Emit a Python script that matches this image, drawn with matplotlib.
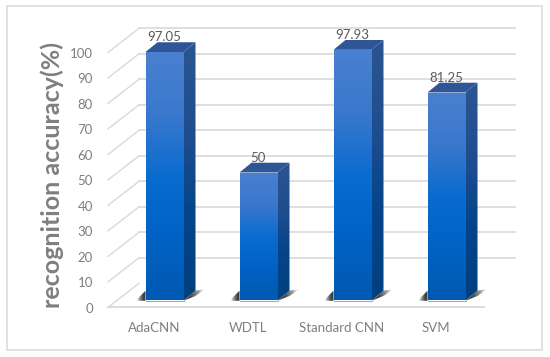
import numpy as np
import matplotlib
matplotlib.use("Agg")
import matplotlib.pyplot as plt
from matplotlib.colors import LinearSegmentedColormap
from matplotlib.patches import Polygon, Rectangle

categories = ["AdaCNN", "WDTL", "Standard CNN", "SVM"]
accuracy = [97.05, 50, 97.93, 81.25]
value_labels = ["97.05", "50", "97.93", "81.25"]
y_ticks = [0, 10, 20, 30, 40, 50, 60, 70, 80, 90, 100]

W, H = 550, 357
PX_X = 94.0   # pixels per category
PX_Y = 2.56   # pixels per percent
X0 = 164.5    # pixel of first bar centre
Y0 = 300.5    # pixel of value 0 on the bar front plane

BAR_W = 38 / PX_X
# depth of the bars, in data units
DX = 12 / PX_X
DY = 9.8 / PX_Y
# back wall and floor front, relative to the bar front plane
BACK_DX = 21.5 / PX_X
BACK_DY = 17.2 / PX_Y
FRONT_DX = -9.5 / PX_X
FRONT_DY = -6.9 / PX_Y
GRID_SCALE = 0.996

plt.rcParams["font.family"] = ["Lato", "DejaVu Sans"]

fig = plt.figure(figsize=(W / 100, H / 100), dpi=100, facecolor="white")
ax = fig.add_axes([0, 0, 1, 1])
ax.axis("off")

grid_col = "#d9d9d9"
text_col = "#7f7f7f"

# outer frame
ax.add_patch(Rectangle((7 / W, 1 - 349.5 / H), (542 - 7) / W, (349.5 - 5.5) / H,
                       transform=ax.transAxes, fill=False, ec="#dedede", lw=1.3))

left = -0.5
right = 3.5
for v in y_ticks:
    yv = v * GRID_SCALE
    # back wall and side wall lines
    if v > 0:
        ax.plot([left + BACK_DX, right + BACK_DX], [yv + BACK_DY] * 2, color=grid_col, lw=1.2, zorder=1)
    ax.plot([left + FRONT_DX, left + BACK_DX], [yv + FRONT_DY, yv + BACK_DY], color=grid_col, lw=1.0, zorder=1)
    ax.text(left + FRONT_DX - 15 / PX_X, yv + FRONT_DY - 0.5, str(v), ha="right",
            va="center", fontsize=9.5, color=text_col)

# floor front line
ax.plot([left + FRONT_DX, right + FRONT_DX], [FRONT_DY, FRONT_DY], color=grid_col, lw=1.3, zorder=1)

front_cmap = LinearSegmentedColormap.from_list("front", ["#4a80d0", "#3a78cc", "#0a6ccf", "#0062c4", "#0059b2"])
side_cmap = LinearSegmentedColormap.from_list("side", ["#2b5590", "#1f4e8f", "#05448a", "#00407f"])
shadow_cmap = LinearSegmentedColormap.from_list(
    "shadow", [(0.2, 0.2, 0.2, 1.0), (0.25, 0.25, 0.25, 0.95), (0.45, 0.45, 0.45, 0.7), (0.85, 0.85, 0.85, 0.0)])


def gradient(ymin, ymax, poly_pts, cmap, zorder):
    # vertical gradient clipped to a polygon
    g = np.linspace(0, 1, 128).reshape(-1, 1)
    xs = [p[0] for p in poly_pts]
    im = ax.imshow(g, cmap=cmap, extent=(min(xs), max(xs), ymin, ymax), origin="upper",
                   aspect="auto", zorder=zorder, interpolation="bilinear")
    clip = Polygon(poly_pts, closed=True, transform=ax.transData, fc="none", ec="none")
    ax.add_patch(clip)
    im.set_clip_path(clip)


def horiz_gradient(poly_pts, cmap, zorder, flip=False):
    g = np.linspace(0, 1, 64).reshape(1, -1)
    if flip:
        g = g[:, ::-1]
    xs = [p[0] for p in poly_pts]
    ys = [p[1] for p in poly_pts]
    im = ax.imshow(g, cmap=cmap, extent=(min(xs), max(xs), min(ys), max(ys)), origin="upper",
                   aspect="auto", zorder=zorder, interpolation="bilinear")
    clip = Polygon(poly_pts, closed=True, transform=ax.transData, fc="none", ec="none")
    ax.add_patch(clip)
    im.set_clip_path(clip)


for i, (name, val, lab) in enumerate(zip(categories, accuracy, value_labels)):
    x1 = i - BAR_W / 2
    x2 = i + BAR_W / 2
    # shadows on the floor
    horiz_gradient([(x2, -0.1), (x2 + 12 / PX_X, 4.5 / PX_Y), (x2 + 22 / PX_X, 11.5 / PX_Y), (x2 + DX, DY)],
                   shadow_cmap, 2)
    horiz_gradient([(x1, -0.1), (x1, DY), (x1 - 10 / PX_X, -0.1)], shadow_cmap, 2, flip=True)
    # thin grey line under the bar
    ax.plot([x1, x2], [-0.2, -0.2], color="#a8a8a8", lw=0.8, zorder=2)
    # side face, top face, front face
    gradient(0, val + DY, [(x2, 0), (x2 + DX, DY), (x2 + DX, val + DY), (x2, val)], side_cmap, 3)
    ax.add_patch(Polygon([(x1, val), (x2, val), (x2 + DX, val + DY), (x1 + DX, val + DY)],
                         closed=True, fc="#2f5597", ec="none", zorder=3))
    gradient(0, val, [(x1, 0), (x2, 0), (x2, val), (x1, val)], front_cmap, 4)
    ax.text(i - 0.5 / PX_X, val + DY + 2.0, lab, ha="center", va="center",
            fontsize=9.5, color="#595959", zorder=5)
    # category label
    ax.text(i - 10.5 / PX_X, -10.7, name, ha="center", va="center", fontsize=9.5, color=text_col)

ax.set_xlim(-X0 / PX_X, (W - X0) / PX_X)
ax.set_ylim((Y0 - H) / PX_Y, Y0 / PX_Y)

ax.text(52 / W, 1 - 175 / H, "recognition accuracy(%)", transform=ax.transAxes, rotation=90,
        ha="center", va="center", fontsize=18, fontweight="bold", color=text_col)

fig.savefig("out.png", dpi=100)
